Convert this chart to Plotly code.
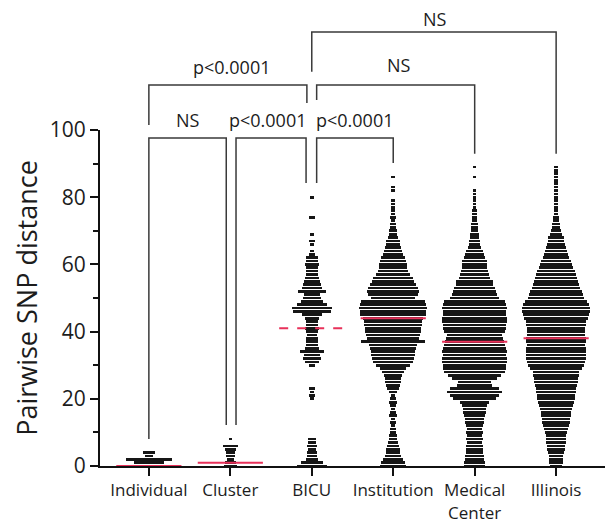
import plotly.graph_objects as go

# ---------------- data ----------------
categories = ["Individual", "Cluster", "BICU", "Institution", "Medical<br>Center", "Illinois"]

# number of pairs (dots) at each integer SNP distance, index = distance
individual_counts = [22, 14, 22, 3, 5]
cluster_counts = [6, 5, 3, 4, 4, 5, 7, 0, 1]
bicu_counts = [14, 10, 5, 4, 4, 3, 4, 3, 3, 0,
               0, 0, 0, 0, 0, 0, 0, 0, 0, 0,
               1, 2, 1, 2, 0, 0, 0, 0, 0, 0,
               2, 6, 8, 7, 11, 6, 5, 5, 5, 4,
               5, 6, 5, 5, 6, 9, 18, 19, 14, 10,
               8, 7, 13, 9, 8, 7, 6, 5, 5, 5,
               6, 5, 5, 2, 1, 0, 1, 2, 0, 1,
               0, 0, 0, 0, 2, 0, 0, 0, 0, 0,
               1]
institution_counts = [12, 11, 9, 7, 6, 6, 5, 4, 3, 3,
                      2, 2, 1, 2, 1, 3, 2, 1, 2, 3,
                      2, 1, 3, 5, 6, 7, 7, 8, 10, 12,
                      16, 19, 20, 21, 21, 22, 23, 31, 25, 26,
                      27, 27, 28, 28, 29, 32, 32, 33, 32, 31,
                      21, 24, 25, 24, 22, 20, 19, 16, 14, 13,
                      13, 12, 11, 9, 8, 7, 6, 6, 4, 3,
                      3, 2, 2, 1, 2, 1, 1, 1, 1, 1,
                      0, 0, 1, 1, 0, 0, 1]
medical_counts = [10, 10, 9, 9, 8, 8, 8, 7, 8, 7,
                  8, 7, 8, 9, 9, 10, 11, 11, 12, 14,
                  21, 24, 27, 24, 17, 16, 22, 26, 30, 31,
                  31, 32, 32, 31, 32, 31, 30, 29, 28, 27,
                  30, 31, 31, 32, 32, 31, 31, 32, 31, 30,
                  24, 22, 21, 20, 18, 18, 15, 14, 13, 12,
                  12, 12, 10, 9, 8, 6, 5, 5, 4, 4,
                  3, 3, 3, 2, 2, 2, 2, 1, 1, 1,
                  1, 1, 1, 0, 0, 0, 1, 0, 0, 1]
illinois_counts = [5, 6, 6, 6, 7, 8, 8, 9, 9, 9,
                   10, 11, 12, 13, 13, 14, 14, 15, 16, 17,
                   18, 18, 19, 19, 20, 21, 21, 22, 22, 25,
                   27, 28, 29, 29, 29, 29, 28, 29, 29, 28,
                   28, 28, 29, 29, 31, 32, 33, 33, 32, 30,
                   27, 26, 25, 23, 22, 21, 20, 19, 18, 16,
                   15, 14, 12, 11, 10, 9, 8, 7, 7, 5,
                   4, 3, 3, 2, 2, 1, 1, 1, 1, 1,
                   1, 1, 1, 1, 1, 1, 1, 1, 1, 1]

medians = [0, 1, 41, 44, 37, 38]

# comparisons: (group a, group b, label)
comparisons = [(0, 1, "NS"), (1, 2, "p<0.0001"), (2, 3, "p<0.0001"),
               (0, 2, "p<0.0001"), (2, 4, "NS"), (2, 5, "NS")]

groups = [individual_counts, cluster_counts, bicu_counts,
          institution_counts, medical_counts, illinois_counts]

# ---------------- layout constants ----------------
# page body has an 8px margin, so the figure is 8px smaller and offset
W, H = 605, 516
ML, MR, MT, MB = 92, 8, 122, 58
XMIN, XMAX = -0.6, 5.6
PX_PER_UNIT = (W - ML - MR) / (XMAX - XMIN)
FONT = "Open Sans"
INK = "#1c1c1c"

fig = go.Figure()

for i, counts in enumerate(groups):
    ys, xs, bases = [], [], []
    for d, c in enumerate(counts):
        if c > 0:
            w = (2.0 * c + 1.5) / PX_PER_UNIT
            ys.append(d)
            xs.append(w)
            bases.append(i - w / 2)
    fig.add_trace(go.Bar(orientation="h", y=ys, x=xs, base=bases, width=0.8,
                         marker=dict(color="#161616", line=dict(width=0)),
                         showlegend=False, hoverinfo="skip"))

# median lines
for i, m in enumerate(medians):
    fig.add_shape(type="line", xref="x", yref="y", x0=i - 0.4, x1=i + 0.4, y0=m, y1=m,
                  line=dict(color="#e8315a", width=2, dash="dash" if i == 2 else "solid"),
                  layer="above")

# significance brackets (paper-y geometry)
bracket_geom = [
    # x0, x1, level, left-leg bottom, right-leg bottom, label x, label y
    (0.0, 0.95, 0.976, 0.080, 0.122, 0.48, 1.03),
    (1.07, 1.93, 0.976, 0.122, 0.842, 1.46, 1.03),
    (2.06, 3.0, 0.976, 0.842, 0.902, 2.53, 1.03),
    (0.0, 1.94, 1.134, 1.015, 1.080, 1.02, 1.188),
    (2.06, 4.0, 1.134, 1.089, 0.929, 3.07, 1.193),
    (2.0, 5.0, 1.292, 1.173, 0.929, 3.51, 1.33),
]
for (a, b, label), (x0, x1, lv, lb, rb, lx, ly) in zip(comparisons, bracket_geom):
    fig.add_shape(type="path", xref="x", yref="paper",
                  path=f"M {x0},{lb} L {x0},{lv} L {x1},{lv} L {x1},{rb}",
                  line=dict(color="#3a3a3a", width=1.5))
    fig.add_annotation(x=lx, y=ly, xref="x", yref="paper", text=label, showarrow=False,
                       xanchor="center", yanchor="middle",
                       font=dict(family=FONT, size=18, color=INK))

fig.update_layout(
    width=W, height=H,
    margin=dict(l=ML, r=MR, t=MT, b=MB, autoexpand=False),
    paper_bgcolor="white", plot_bgcolor="white",
    barmode="overlay", bargap=0,
    font=dict(family=FONT, color=INK),
    showlegend=False,
)
fig.update_xaxes(range=[XMIN, XMAX], tickmode="array", tickvals=list(range(len(categories))),
                 ticktext=categories, showline=True, linecolor="#111", linewidth=2,
                 ticks="outside", ticklen=8, tickwidth=2, tickcolor="#111", automargin=False,
                 showgrid=False, zeroline=False, tickfont=dict(family=FONT, size=17, color=INK))
fig.update_yaxes(range=[0, 100], tickmode="linear", tick0=0, dtick=20,
                 showline=True, linecolor="#111", linewidth=2, automargin=False,
                 ticks="outside", ticklen=8, tickwidth=2, tickcolor="#111",
                 minor=dict(dtick=10, ticks="outside", ticklen=5, tickwidth=2, tickcolor="#111"),
                 showgrid=False, zeroline=False,
                 tickfont=dict(family=FONT, size=21, color=INK),
                 title=dict(text="Pairwise SNP distance", standoff=8,
                            font=dict(family=FONT, size=27, color=INK)))

fig.write_html("out.html")
